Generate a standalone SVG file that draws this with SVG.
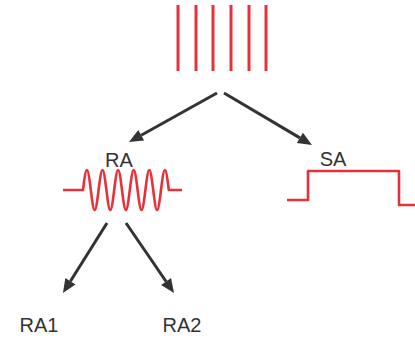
<svg xmlns="http://www.w3.org/2000/svg" width="415" height="339" viewBox="0 0 415 339">
<style>
.sig{fill:none;stroke:#e8303a;stroke-width:2.6;stroke-linejoin:round}
.bar{stroke:#e8303a;stroke-width:3}
.edge{stroke:#333;stroke-width:3;fill:none}
.lbl{font-family:"Liberation Sans",Arial,sans-serif;font-size:20px;fill:#333}
</style>
<defs>
<marker id="ah" viewBox="0 0 14 12" markerWidth="14" markerHeight="12" refX="0" refY="6" orient="auto" markerUnits="userSpaceOnUse" overflow="visible">
<path d="M0,0 L14,6 L0,12 z" fill="#333"/>
</marker>
</defs>
<g id="source">
<line class="bar" x1="178" y1="5" x2="178" y2="71"/>
<line class="bar" x1="196" y1="5" x2="196" y2="71"/>
<line class="bar" x1="213" y1="5" x2="213" y2="71"/>
<line class="bar" x1="231" y1="5" x2="231" y2="71"/>
<line class="bar" x1="249" y1="5" x2="249" y2="71"/>
<line class="bar" x1="266" y1="5" x2="266" y2="71"/>
</g>
<g id="RA">
<text class="lbl" x="119" y="167" text-anchor="middle">RA</text>
<path class="sig" d="M63,190 H83 C86.31,163.3 87.49,163.3 90.8,190 S95.29,216.7 98.6,190 S103.09,163.3 106.4,190 S110.89,216.7 114.2,190 S118.69,163.3 122,190 S126.49,216.7 129.8,190 S134.29,163.3 137.6,190 S142.09,216.7 145.4,190 S149.89,163.3 153.2,190 S157.69,216.7 161,190 S165.49,163.3 168.8,190 H182"/>
</g>
<g id="SA">
<text class="lbl" x="333" y="166" text-anchor="middle">SA</text>
<path class="sig" d="M287,200 H308 V171 H399 V205 H415"/>
</g>
<g id="RA1">
<text class="lbl" x="39" y="332" text-anchor="middle">RA1</text>
</g>
<g id="RA2">
<text class="lbl" x="182" y="332" text-anchor="middle">RA2</text>
</g>
<g id="connectors">
<line class="edge" x1="217" y1="93" x2="141.2" y2="135.2" marker-end="url(#ah)"/>
<line class="edge" x1="224" y1="93" x2="299.9" y2="137.9" marker-end="url(#ah)"/>
<line class="edge" x1="107" y1="223" x2="70.4" y2="281.2" marker-end="url(#ah)"/>
<line class="edge" x1="126" y1="223" x2="166.1" y2="281.5" marker-end="url(#ah)"/>
</g>
</svg>
